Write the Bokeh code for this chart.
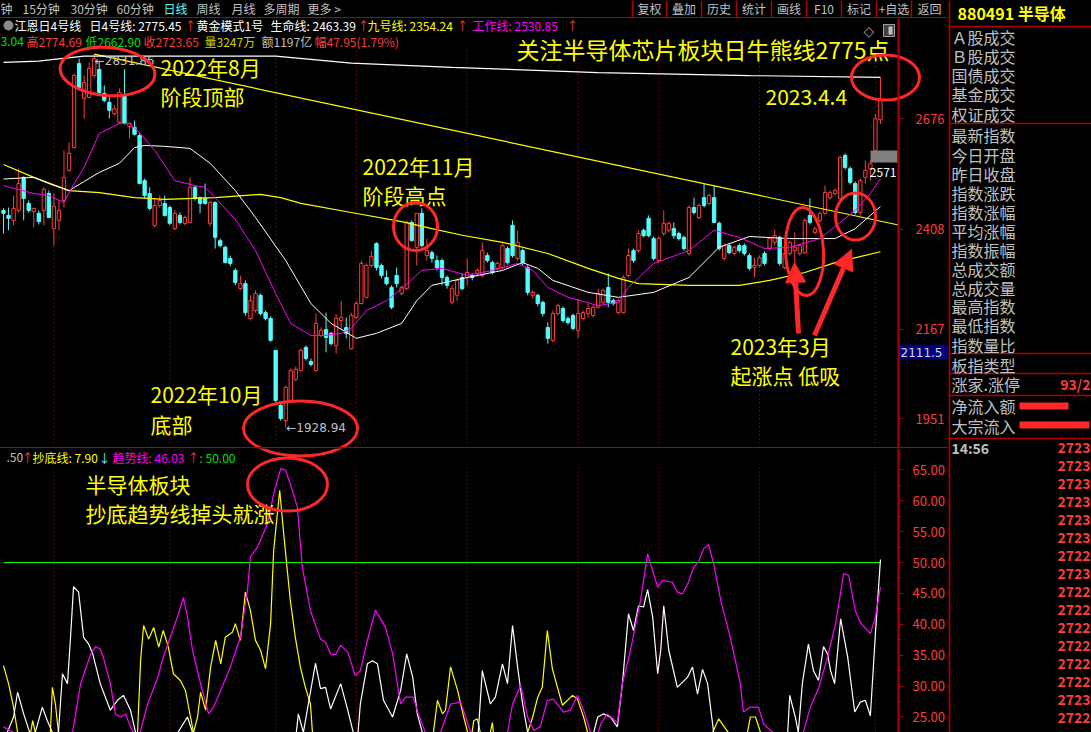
from bokeh.plotting import figure
from bokeh.models import (Range1d, LinearAxis, FixedTicker, NumeralTickFormatter,
                          Arrow, NormalHead, Spacer)
from bokeh.layouts import row, column
from bokeh.embed import file_html
from bokeh.resources import INLINE
from bokeh.core.properties import value

# ---------------- daily candles (2022-07-18 .. 2023-04-04) ----------------
opens = [2454, 2442, 2430, 2454, 2534, 2471, 2451, 2447, 2454, 2495,
         2410, 2430, 2478, 2551, 2606, 2809, 2725, 2727, 2780, 2795,
         2737, 2715, 2688, 2667, 2732, 2657, 2655, 2635, 2526, 2495,
         2418, 2466, 2471, 2461, 2410, 2442, 2423, 2425, 2510, 2485,
         2483, 2423, 2473, 2381, 2365, 2338, 2309, 2265, 2277, 2193,
         2212, 2249, 2207, 2193, 2116, 1983, 1946, 1995, 2046, 2067,
         2123, 2089, 2067, 2152, 2166, 2157, 2128, 2188, 2171, 2120,
         2195, 2229, 2244, 2321, 2374, 2321, 2292, 2268, 2297, 2253,
         2265, 2425, 2365, 2447, 2345, 2352, 2333, 2333, 2292, 2232,
         2249, 2292, 2292, 2297, 2302, 2297, 2345, 2328, 2314, 2316,
         2362, 2418, 2338, 2357, 2316, 2249, 2249, 2232, 2171, 2140,
         2205, 2217, 2193, 2200, 2164, 2193, 2205, 2200, 2220, 2232,
         2268, 2236, 2207, 2207, 2297, 2357, 2357, 2406, 2435, 2386,
         2333, 2398, 2406, 2410, 2398, 2389, 2350, 2461, 2437, 2485,
         2471, 2485, 2423, 2338, 2369, 2350, 2369, 2369, 2345, 2316,
         2321, 2350, 2362, 2377, 2389, 2316, 2350, 2357, 2350, 2352,
         2442, 2401, 2430, 2447, 2485, 2495, 2483, 2587, 2555, 2519,
         2449, 2534, 2555, 2599, 2673.04]
closes = [2447, 2435, 2459, 2519, 2483, 2454, 2459, 2427, 2505, 2437,
          2464, 2454, 2534, 2592, 2780, 2751, 2763, 2797, 2821, 2739,
          2720, 2696, 2700, 2739, 2664, 2664, 2638, 2519, 2490, 2459,
          2466, 2478, 2442, 2423, 2447, 2425, 2437, 2510, 2483, 2471,
          2471, 2473, 2389, 2369, 2328, 2326, 2280, 2277, 2207, 2236,
          2253, 2205, 2193, 2140, 1995, 1951, 2026, 2067, 2070, 2116,
          2096, 2082, 2181, 2164, 2147, 2132, 2193, 2195, 2157, 2200,
          2229, 2326, 2321, 2343, 2316, 2297, 2277, 2220, 2277, 2268,
          2425, 2381, 2447, 2369, 2357, 2338, 2316, 2292, 2273, 2265,
          2285, 2265, 2304, 2292, 2309, 2357, 2333, 2304, 2326, 2369,
          2328, 2345, 2377, 2328, 2256, 2256, 2229, 2205, 2145, 2205,
          2224, 2188, 2183, 2169, 2205, 2207, 2217, 2220, 2253, 2261,
          2232, 2229, 2236, 2292, 2345, 2333, 2398, 2393, 2393, 2338,
          2386, 2423, 2423, 2393, 2386, 2362, 2461, 2449, 2466, 2466,
          2490, 2425, 2362, 2369, 2352, 2365, 2357, 2350, 2314, 2321,
          2340, 2326, 2386, 2393, 2326, 2350, 2377, 2365, 2369, 2430,
          2425, 2410, 2447, 2497, 2497, 2502, 2582, 2558, 2522, 2449,
          2526, 2551, 2567, 2675.70, 2723.65]
highs = [2459, 2461, 2490, 2555, 2536, 2478, 2461, 2454, 2510, 2502,
         2495, 2478, 2599, 2618, 2785, 2821, 2780, 2812, 2831.86, 2816,
         2756, 2732, 2708, 2749, 2795, 2667, 2671, 2640, 2531, 2510,
         2483, 2490, 2490, 2466, 2454, 2449, 2442, 2534, 2514, 2488,
         2519, 2478, 2476, 2386, 2369, 2345, 2314, 2297, 2285, 2249,
         2261, 2253, 2212, 2198, 2116, 1988, 2031, 2072, 2077, 2120,
         2128, 2096, 2205, 2171, 2207, 2161, 2203, 2236, 2195, 2207,
         2236, 2333, 2326, 2357, 2377, 2326, 2309, 2273, 2316, 2273,
         2430, 2430, 2447, 2459, 2386, 2357, 2345, 2338, 2297, 2273,
         2290, 2302, 2338, 2302, 2314, 2377, 2352, 2333, 2331, 2374,
         2367, 2430, 2406, 2362, 2321, 2261, 2253, 2236, 2183, 2212,
         2229, 2222, 2198, 2205, 2241, 2212, 2229, 2224, 2265, 2265,
         2302, 2241, 2241, 2297, 2362, 2362, 2406, 2410, 2442, 2391,
         2391, 2454, 2427, 2425, 2403, 2393, 2466, 2485, 2471, 2519,
         2495, 2514, 2427, 2374, 2374, 2369, 2374, 2374, 2350, 2340,
         2345, 2355, 2391, 2406, 2393, 2355, 2381, 2401, 2374, 2435,
         2483, 2415, 2451, 2514, 2502, 2507, 2587, 2592, 2560, 2524,
         2531, 2575, 2575, 2688, 2774.69]
lows = [2398, 2406, 2418, 2449, 2430, 2449, 2413, 2420, 2418, 2435,
        2369, 2406, 2461, 2548, 2604, 2744, 2676, 2725, 2775, 2732,
        2715, 2676, 2684, 2664, 2662, 2628, 2635, 2517, 2483, 2454,
        2413, 2461, 2439, 2418, 2406, 2420, 2418, 2423, 2478, 2447,
        2468, 2415, 2362, 2365, 2326, 2319, 2273, 2261, 2200, 2188,
        2207, 2200, 2188, 2137, 1990, 1946, 1928.94, 1990, 2041, 2065,
        2091, 2077, 2065, 2147, 2111, 2128, 2108, 2164, 2145, 2118,
        2193, 2227, 2241, 2316, 2309, 2290, 2273, 2215, 2268, 2249,
        2261, 2379, 2321, 2365, 2333, 2328, 2309, 2273, 2265, 2227,
        2236, 2261, 2273, 2285, 2294, 2292, 2328, 2299, 2309, 2311,
        2323, 2340, 2333, 2321, 2249, 2241, 2222, 2198, 2132, 2135,
        2200, 2183, 2178, 2164, 2145, 2188, 2195, 2195, 2217, 2227,
        2220, 2224, 2203, 2205, 2292, 2328, 2352, 2389, 2389, 2333,
        2328, 2393, 2401, 2386, 2381, 2357, 2345, 2444, 2432, 2461,
        2466, 2423, 2357, 2333, 2348, 2345, 2352, 2345, 2309, 2292,
        2316, 2321, 2357, 2369, 2321, 2311, 2345, 2328, 2345, 2348,
        2420, 2396, 2425, 2442, 2480, 2490, 2478, 2553, 2517, 2444,
        2442, 2519, 2526, 2594, 2662.90]

# first trading day of each month (candle index)
month_starts = [10, 33, 54, 70, 92, 114, 130, 150, 173]
price_ticks = [1951, 2167, 2408, 2676]
period_high = (18, 2831.86)
period_low = (56, 1928.94)
cursor_price = 2111.5

# overlay lines (candle index, value)
bull_bear_idx = [0, 7, 10, 16, 54, 69, 89, 118, 148, 174]
bull_bear_val = [2812, 2815, 2819, 2827, 2827, 2810, 2800, 2787, 2780, 2775.45]
life_idx = [0, 6, 9, 13, 16, 19, 23, 26, 28, 32, 37, 41, 46, 50, 56, 61, 65, 70, 74,
            79, 82, 85, 92, 99, 103, 106, 109, 116, 122, 129, 136, 142, 148, 156,
            165, 169, 174]
life_val = [2530, 2534, 2519, 2502, 2524, 2546, 2568, 2606, 2611, 2609, 2604, 2568,
            2502, 2437, 2333, 2229, 2181, 2145, 2157, 2181, 2236, 2273, 2292, 2309,
            2328, 2314, 2285, 2256, 2244, 2256, 2292, 2365, 2391, 2386, 2386, 2410,
            2463.39]
nine_idx = [0, 6, 13, 19, 26, 32, 42, 51, 55, 59, 69, 79, 85, 91, 99, 108, 116, 122,
            126, 136, 146, 152, 159, 165, 174]
nine_val = [2565, 2534, 2502, 2497, 2485, 2481, 2485, 2493, 2485, 2471, 2449, 2427,
            2410, 2394, 2377, 2350, 2314, 2290, 2277, 2273, 2273, 2285, 2304, 2328,
            2354.24]
work_idx = [0, 6, 9, 12, 14, 16, 19, 23, 25, 27, 30, 34, 38, 40, 42, 46, 50, 54, 57,
            61, 64, 67, 69, 72, 76, 79, 83, 87, 92, 97, 102, 105, 108, 112, 118, 122,
            124, 129, 136, 141, 146, 151, 156, 162, 166, 169, 172, 174]
work_val = [2514, 2495, 2490, 2473, 2519, 2558, 2640, 2664, 2664, 2642, 2599, 2526,
            2514, 2510, 2485, 2432, 2357, 2253, 2181, 2152, 2152, 2157, 2169, 2212,
            2236, 2265, 2309, 2314, 2297, 2309, 2326, 2309, 2268, 2244, 2224, 2232,
            2268, 2326, 2357, 2406, 2389, 2362, 2365, 2386, 2425, 2454, 2495, 2530.85]
# hand-drawn trend line anchors (index, price)
trend_anchor_a = (18, 2831.86)
trend_anchor_b = (174, 2428.1)

# ---------------- indicator ----------------
trend_idx = [0, 2, 3.4, 9.3, 13.3, 13.7, 15.3, 17.3, 18.3, 19.2,
             19.8, 21.2, 22.2, 23.2, 24.2, 25.2, 25.8, 26.6, 28.6, 30.6,
             31.7, 33.1, 34.5, 35.7, 36.5, 37.5, 39.1, 40.7, 41.7, 43.1,
             45, 47, 48.4, 49, 50.4, 52.4, 53.6, 55, 56, 56.9,
             58.3, 59.3, 60.9, 62.9, 63.9, 64.9, 65.9, 66.9, 68.3, 69.8,
             70.8, 72.2, 73.8, 75.8, 77.2, 78.8, 79.8, 81.3, 82.3, 83.7,
             85.3, 86.7, 88.7, 90.7, 91.7, 92.7, 96.6, 100, 101, 102.6,
             104, 105.2, 106.5, 107.9, 109.1, 111.1, 112.5, 113.9, 115.1, 116.5,
             117.7, 118.5, 119.8, 121.8, 122.8, 124.4, 126.4, 127.8, 129.8, 130.8,
             132.7, 133.7, 134.7, 135.9, 136.9, 137.9, 138.9, 139.9, 140.9, 142.3,
             144.2, 146.2, 146.8, 148.2, 149.8, 150.8, 152.2, 155.2, 158.7, 160.1,
             161.7, 163.5, 165.1, 166.7, 167.7, 169, 170, 172, 173, 174]
trend_val = [23.4, 22.5, 20, 18, 20, 22.5, 30.4, 35.2, 36.4, 36.0,
             34.7, 30.4, 25.5, 25.0, 25.5, 23.4, 22.5, 21, 27.1, 31.4,
             34.7, 37.9, 41.2, 44.3, 41.2, 35.8, 30.4, 25.5, 26.6, 29.3,
             33.1, 37.9, 45.5, 50.9, 52.5, 56.3, 61.1, 65.2, 64.9, 62.7,
             59.0, 49.2, 42.2, 37.6, 37.1, 35.2, 35.1, 36.6, 35.5, 31.7,
             32.5, 37.4, 42.3, 39.5, 35.2, 27.1, 28.2, 28.2, 25.5, 22.5,
             21, 22.5, 27.1, 27.4, 25, 22.5, 20, 22.5, 27.1, 30.1,
             25, 22.8, 23.4, 27.7, 27.9, 25.8, 26.1, 28.5, 26.1, 22.5,
             21.5, 23.9, 25.5, 24.1, 30.4, 35.8, 43.9, 51.4, 46.0, 47.1,
             46.8, 45.2, 44.9, 46.8, 49.2, 50.1, 52.2, 52.9, 49.8, 43.9,
             37.9, 30.4, 25.8, 26.6, 26.6, 23.9, 22.8, 21, 22.5, 26.6,
             29.6, 34.7, 40.1, 48.2, 47.9, 42.2, 40.3, 38.5, 41.2, 46.03]
white_idx = [0, 2, 2.8, 4, 5.8, 7.7, 8.7, 9.7, 10.7, 11.7,
             12.7, 13.3, 13.9, 14.9, 15.9, 16.9, 17.7, 19.2, 21.2, 22.6,
             23.8, 25.2, 26.2, 31.2, 36.5, 37.5, 47, 57.9, 58.5, 59.5,
             61.9, 62.9, 63.9, 64.9, 66.9, 68.3, 69.4, 70.2, 70.8, 72.2,
             73.2, 74.2, 75.4, 77.2, 78.8, 80, 81.2, 82.1, 83.1, 88.7,
             94.2, 95, 96.6, 97.6, 99, 100, 101, 102, 103, 104,
             110.5, 117.1, 117.9, 119, 120.4, 121.8, 122.8, 124, 125, 126,
             127, 127.8, 128.8, 129.8, 130.4, 131, 132, 133.7, 135.7, 136.7,
             137.7, 138.7, 139.7, 140.9, 148.2, 155.6, 156, 157.1, 157.7, 158.5,
             159.7, 160.7, 161.7, 162.7, 163.5, 164.1, 164.9, 166.1, 167.5, 168.9,
             170, 171, 172, 173, 174]
white_val = [21, 25.0, 29.0, 25.5, 21, 26.6, 24.4, 22.5, 20, 32.0,
             30.4, 37.9, 46.1, 45.2, 37.9, 36.8, 35.2, 30.4, 26.1, 27.7,
             28.5, 26.1, 22.5, 18, 25.0, 22.5, 16, 21, 25.5, 22.5,
             33.7, 29.6, 29.8, 26.3, 30.4, 26.1, 22.5, 21, 27.1, 33.6,
             34.1, 33.6, 27.7, 25.0, 29.3, 35.2, 31.4, 25.5, 22.5, 18,
             22.5, 32.5, 27.1, 28.2, 33.6, 30.4, 39.8, 33.1, 27.1, 22.5,
             17, 22.5, 25.0, 25.5, 25.0, 23.4, 30.4, 41.7, 39.0, 43.0,
             42.8, 45.6, 41.2, 32.0, 35.8, 43.0, 35.8, 29.8, 31.4, 33.1,
             28.7, 32.7, 30.4, 22.5, 17, 22.5, 28.5, 25.0, 22.5, 30.4,
             36.8, 32.5, 30.9, 36.4, 35.2, 32.5, 30.4, 40.9, 34.7, 25.8,
             27.4, 27.7, 25.2, 38.5, 50.5]
bottom_idx = [0, 1, 2, 2.8, 4.2, 5.8, 6.3, 8, 9.3, 9.7,
              10.3, 10.9, 18.3, 26.6, 27.2, 27.8, 28.8, 29.8, 30.8, 31.7,
              32.7, 33.7, 35.1, 36.1, 37.1, 37.7, 38.5, 39.1, 40.1, 41.1,
              42.1, 43.1, 44, 45.4, 46, 47, 48, 49, 50, 51,
              52, 53, 53.6, 54.8, 55.6, 56.9, 57.9, 58.9, 59.9, 60.9,
              61.3, 72.8, 85.3, 86.1, 87.1, 87.7, 88.7, 90.1, 91.3, 92.1,
              92.7, 93.3, 94, 94.6, 95.6, 96.6, 97, 97.2, 100.6, 104,
              105, 106, 106.9, 107.9, 108.9, 110.9, 112.9, 113.9, 115.1, 115.9,
              128.4, 140.7, 141.9, 143.8, 145.8, 147.6, 148.2, 149.2, 150.2, 162,
              174]
bottom_val = [33.3, 30.4, 26.6, 22.5, 17, 24.4, 22.5, 18, 22.5, 29.8,
              27.1, 22.5, 14, 22.5, 34.1, 39.8, 37.6, 39.5, 36.3, 39.0,
              36.3, 32.0, 30.9, 29.3, 25.0, 22.5, 25.0, 29.0, 26.1, 33.1,
              37.4, 33.6, 37.9, 38.7, 40.1, 37.4, 45.2, 42.2, 37.4, 35.8,
              32.8, 40.1, 51.9, 61.7, 54.6, 43.9, 37.9, 33.1, 29.8, 27.1,
              22.5, 12, 22.5, 27.7, 25.5, 26.1, 33.1, 29.3, 25.0, 22.5,
              21, 24.4, 24.7, 22.5, 20, 22.5, 24.1, 22.5, 16, 22.5,
              25.0, 28.2, 29.8, 39.0, 32.8, 26.9, 28.5, 27.9, 25.0, 22.5,
              10, 22.5, 24.7, 22.5, 18, 22.5, 25.0, 25.0, 22.5, 12,
              7.9]
ref_level = 50
ind_ticks = [25, 30, 35, 40, 45, 50, 55, 60, 65]
ind_minor = [27.5, 32.5, 37.5, 42.5, 47.5, 52.5, 57.5, 62.5, 67.5]

# ---------------- side panel ----------------
panel_items = ["Ａ股成交", "Ｂ股成交", "国债成交", "基金成交", "权证成交",
               "最新指数", "今日开盘", "昨日收盘", "指数涨跌", "指数涨幅", "平均涨幅",
               "指数振幅", "总成交额", "总成交量", "最高指数", "最低指数", "指数量比",
               "板指类型", "涨家.涨停", "净流入额", "大宗流入"]
panel_rows_y = [36, 55, 74.5, 93.5, 113, 134.5, 154, 173, 192, 211, 230, 249.5, 268,
                287, 305.5, 324.5, 344, 364, 383.5, 405.5, 425.5]
tick_prices = [2723, 2723, 2723, 2723, 2723, 2723, 2722, 2723, 2722, 2722, 2722,
               2722, 2722, 2722, 2723, 2722]

FONT = "Noto Sans CJK SC"
RED = "#ff3c3c"
MARK = "#ff2828"
CYAN = "#54fcfc"
YEL = "#ffff00"
MAG = "#ff00ff"
GRAY = "#c0c0c0"
FRAME = "#b00000"

N = len(opens)
# candle index range across the full 948 px strip; the price axis sits at AXIS_AT
XR = (-0.595, 187.5)
AXIS_AT = 177.58


def fig(w, h, xr, yr):
    p = figure(width=w, height=h, x_range=Range1d(*xr), y_range=Range1d(*yr),
               output_backend="svg", toolbar_location=None, x_axis_type=None,
               y_axis_type=None, min_border=0,
               background_fill_color="black", border_fill_color="black",
               outline_line_color=None)
    return p


def txt(p, x, y, s, color, size, align="left", bold=False, font=FONT):
    p.text(x=[x], y=[y], text=[s], text_color=color, text_font=value(font),
           text_font_size=f"{size}px", text_align=align, text_baseline="middle",
           text_font_style="bold" if bold else "normal",
           x_range_name="px", y_range_name="px")


def axis(ticks, minor, standoff, fmt=None):
    a = LinearAxis(ticker=FixedTicker(ticks=ticks, minor_ticks=minor),
                   fixed_location=AXIS_AT)
    if fmt is not None:
        a.formatter = fmt
    a.axis_line_color = FRAME
    a.axis_line_width = 2
    a.major_tick_line_color = FRAME
    a.minor_tick_line_color = FRAME
    a.major_tick_out = 5
    a.major_tick_in = 0
    a.minor_tick_out = 3
    a.minor_tick_in = 0
    a.major_label_text_color = RED
    a.major_label_text_font = FONT
    a.major_label_text_font_size = "13px"
    a.major_label_standoff = standoff
    return a


# ---------------- header strip ----------------
hdr = fig(948, 17, (0, 948), (17, 0))
hdr.extra_x_ranges = {"px": Range1d(0, 948)}
hdr.extra_y_ranges = {"px": Range1d(17, 0)}
tabs = [(0, "钟", GRAY), (22, "15分钟", GRAY), (70, "30分钟", GRAY), (116, "60分钟", GRAY),
        (163, "日线", CYAN), (196, "周线", GRAY), (231, "月线", GRAY), (263, "多周期", GRAY),
        (307, "更多 >", GRAY)]
for x, s, c in tabs:
    txt(hdr, x, 8, s, c, 12)
btn_edges = [632, 666, 701, 736, 771, 806, 841, 876, 911, 947]
btn_names = ["复权", "叠加", "历史", "统计", "画线", "F10", "标记", "+自选", "返回"]
hdr.segment(x0=btn_edges[:-1], y0=[0] * 9, x1=btn_edges[:-1], y1=[17] * 9,
            line_color=FRAME, line_width=1.5, x_range_name="px", y_range_name="px")
for i, s in enumerate(btn_names):
    txt(hdr, (btn_edges[i] + btn_edges[i + 1]) / 2, 8, s, GRAY, 12, align="center")

# ---------------- main price chart ----------------
main = fig(948, 429, XR, (1881.1, 2917.9))
main.extra_x_ranges = {"px": Range1d(0, 948)}
main.extra_y_ranges = {"px": Range1d(447, 18)}
main.add_layout(axis(price_ticks, [], 12), "right")

main.segment(x0=month_starts, y0=[447] * len(month_starts), x1=month_starts,
             y1=[47] * len(month_starts), y_range_name="px", line_color="#c00000",
             line_dash="1 3", line_width=1)

idx = list(range(N))
up = [c >= o for o, c in zip(opens, closes)]
ccol = [RED if u else CYAN for u in up]
cfill = ["black" if u else CYAN for u in up]
main.segment(x0=idx, y0=highs, x1=idx, y1=lows, line_color=ccol, line_width=1)
main.vbar(x=idx, width=0.66, top=[max(o, c) for o, c in zip(opens, closes)],
          bottom=[min(o, c) for o, c in zip(opens, closes)], fill_color=cfill,
          line_color=ccol, line_width=1)

slope = (trend_anchor_b[1] - trend_anchor_a[1]) / (trend_anchor_b[0] - trend_anchor_a[0])
main.line([trend_anchor_a[0], AXIS_AT],
          [trend_anchor_a[1], trend_anchor_a[1] + slope * (AXIS_AT - trend_anchor_a[0])],
          line_color=YEL, line_width=1.2)
main.line(bull_bear_idx, bull_bear_val, line_color="white", line_width=1.2)
main.line(nine_idx, nine_val, line_color=YEL, line_width=1.2)
main.line(life_idx, life_val, line_color="white", line_width=1)
main.line(work_idx, work_val, line_color=MAG, line_width=1)

# extreme labels
main.text(x=[period_high[0] + 0.1], y=[period_high[1]], text=["←" + f"{period_high[1]:.2f}"],
          text_color=GRAY, text_font=value("DejaVu Sans"), text_font_size="12px",
          text_baseline="top")
main.text(x=[period_low[0] + 0.1], y=[period_low[1]], text=["←" + f"{period_low[1]:.2f}"],
          text_color=GRAY, text_font=value("DejaVu Sans"), text_font_size="12px",
          text_baseline="middle")

# info lines
main.circle(x=[8], y=[25], radius=5, fill_color="#8a8a8a", line_color=None,
            x_range_name="px", y_range_name="px")
info1 = [(14, "江恩日4号线", "white"), (89, "日4号线: 2775.45", "white"), (184, "↑", RED),
         (196, "黄金模式1号", "white"), (270, "生命线: 2463.39", "white"), (357, "↑", RED),
         (367, "九号线: 2354.24", YEL), (456, "↑", RED), (472, "工作线: 2530.85", MAG),
         (566, "↑", RED)]
for x, s, c in info1:
    txt(main, x, 25, s, c, 12)
info2 = [(0, "3.04", "#00e000"), (26, "高2774.69", RED), (85, "低2662.90", "#00e000"),
         (143, "收2723.65", RED), (204, "量3247万", "#d0d000"), (261, "额1197亿", GRAY),
         (314, "幅47.95(1.79%)", RED)]
for x, s, c in info2:
    txt(main, x, 41, s, c, 12)
txt(main, 863, 30, "◇", "#a0a0a0", 14, font="DejaVu Sans")
main.quad(left=[883], right=[894], top=[24], bottom=[36], fill_color="#404040",
          line_color="#a0a0a0", x_range_name="px", y_range_name="px")
main.quad(left=[888], right=[892], top=[26], bottom=[34], fill_color="#c0c0c0",
          line_color=None, x_range_name="px", y_range_name="px")

# last-price marker and cursor price box on the axis
main.quad(left=[870], right=[897], top=[150], bottom=[162], fill_color="#808080",
          line_color=None, x_range_name="px", y_range_name="px")
txt(main, 896, 172, "2571", "white", 12, align="right")
main.quad(left=[AXIS_AT], right=[XR[1]], top=[cursor_price + 18], bottom=[cursor_price - 18],
          fill_color="#000080", line_color=None)
main.text(x=[AXIS_AT + 0.4], y=[cursor_price], text=[f"{cursor_price:.1f}"],
          text_color="#d8d8d8", text_font=value("DejaVu Sans"), text_font_size="12px",
          text_baseline="middle")

# annotations
notes = [(516, 48, "关注半导体芯片板块日牛熊线2775点", 23),
         (160, 66, "2022年8月", 21), (160, 95, "阶段顶部", 21),
         (362, 165, "2022年11月", 21), (362, 194, "阶段高点", 21),
         (765, 96, "2023.4.4", 21), (730, 345, "2023年3月", 21),
         (730, 374, "起涨点 低吸", 21), (150, 393, "2022年10月", 21), (150, 423, "底部", 21)]
for x, y, s, fs in notes:
    txt(main, x, y, s, YEL, fs)

main.ellipse(x=[107, 415, 300, 804, 855, 885], y=[71, 226, 428, 251, 216, 77],
             width=[95, 44, 114, 38, 40, 68], height=[48, 48, 55, 88, 47, 45],
             angle=[-0.08, 0, 0, 0.05, 0, 0], fill_color=None, line_color=MARK,
             line_width=3, x_range_name="px", y_range_name="px")
for xs, ys, xe, ye in [(798, 333, 794, 262), (814, 335, 851, 249)]:
    main.add_layout(Arrow(end=NormalHead(size=20, fill_color=MARK, line_color=MARK),
                          x_start=xs, y_start=ys, x_end=xe, y_end=ye, line_color=MARK,
                          line_width=5, x_range_name="px", y_range_name="px"))

# ---------------- indicator pane ----------------
ind = fig(948, 284, XR, (22.49, 68.45))
ind.extra_x_ranges = {"px": Range1d(0, 948)}
ind.extra_y_ranges = {"px": Range1d(732, 448)}
ind.add_layout(axis(ind_ticks, ind_minor, 9, NumeralTickFormatter(format="0.00")), "right")

ind.segment(x0=month_starts, y0=[732] * len(month_starts), x1=month_starts,
            y1=[467] * len(month_starts), y_range_name="px", line_color="#c00000",
            line_dash="1 3", line_width=1)
ind.line([0, N - 1], [ref_level, ref_level], line_color="#00ff00", line_width=1.2)
ind.line(bottom_idx, bottom_val, line_color=YEL, line_width=1.2)
ind.line(white_idx, white_val, line_color="white", line_width=1.2)
ind.line(trend_idx, trend_val, line_color=MAG, line_width=1.2)

for x, s, c in [(6, ".50", GRAY), (21, "↑", RED), (32, "抄底线: 7.90", YEL), (98, "↓", CYAN),
                (112, "趋势线: 46.03", MAG), (187, "↑", RED), (199, ": 50.00", "#00e000")]:
    txt(ind, x, 457, s, c, 12)
txt(ind, 85, 483, "半导体板块", YEL, 21)
txt(ind, 85, 512, "抄底趋势线掉头就涨", YEL, 21)
ind.ellipse(x=[300, 287], y=[428, 484], width=[114, 80], height=[55, 53], fill_color=None,
            line_color=MARK, line_width=3, x_range_name="px", y_range_name="px")

# ---------------- side panel ----------------
pan = fig(143, 732, (948, 1091), (732, 0))
pan.extra_x_ranges = {"px": Range1d(948, 1091)}
pan.extra_y_ranges = {"px": Range1d(732, 0)}
pan.segment(x0=[948.8], y0=[0], x1=[948.8], y1=[732], line_color=FRAME, line_width=2,
            x_range_name="px", y_range_name="px")
for yy in [26, 123, 353, 373, 395, 438]:
    pan.segment(x0=[948], y0=[yy], x1=[1091], y1=[yy], line_color=FRAME, line_width=1.5,
                x_range_name="px", y_range_name="px")
txt(pan, 957, 12, "880491 半导体", YEL, 16, bold=True)
for s, yy in zip(panel_items, panel_rows_y):
    txt(pan, 951, yy, s, GRAY, 16)
txt(pan, 1090, 383.5, "93/2", RED, 14, align="right", bold=True)
pan.quad(left=[1019, 1019], right=[1068, 1089], top=[402, 421], bottom=[409, 428],
         fill_color=MARK, line_color=None, x_range_name="px", y_range_name="px")
txt(pan, 951, 447, "14:56", GRAY, 14, bold=True)
for k, v in enumerate(tick_prices):
    txt(pan, 1090, 447 + k * 18, str(v), RED, 14, align="right", bold=True)

left = column(hdr, Spacer(width=948, height=1, styles={"background-color": FRAME}),
              main, Spacer(width=948, height=1, styles={"background-color": FRAME}), ind)
root = row(left, pan, styles={"background-color": "black"})

open("out.html", "w").write(file_html(root, INLINE))
